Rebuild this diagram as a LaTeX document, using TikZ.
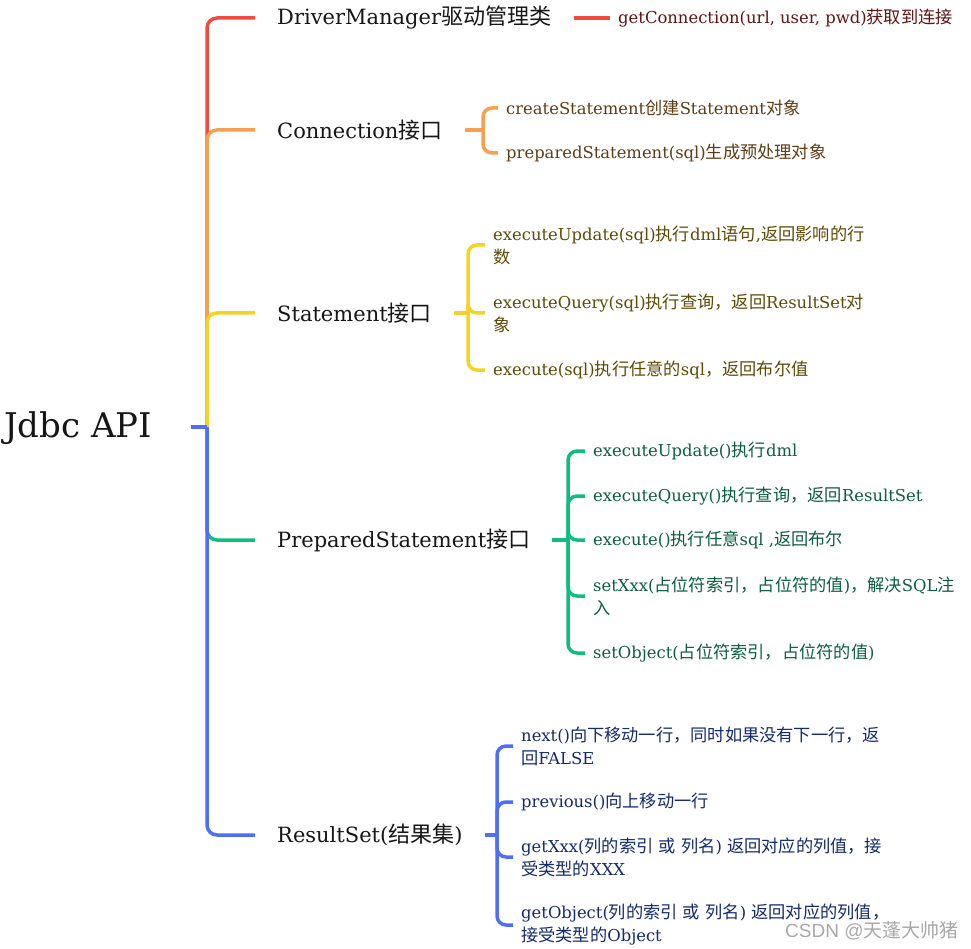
\documentclass[tikz,border=0pt]{standalone}
\usepackage{fontspec}
\setmainfont{DejaVu Serif}
\newfontfamily\cjk[Scale=1.05]{Noto Sans CJK SC}
\newfontfamily\wmfont{Liberation Sans}
\newfontfamily\wmcjk{Noto Sans CJK SC}
\newcommand\zh[1]{{\cjk #1}}
\definecolor{cred}{HTML}{F24A3F}
\definecolor{corange}{HTML}{F7A050}
\definecolor{cyellow}{HTML}{F5D226}
\definecolor{cgreen}{HTML}{10BD7F}
\definecolor{cblue}{HTML}{4F6EF7}
\definecolor{tred}{HTML}{5E1313}
\definecolor{torange}{HTML}{5E3C14}
\definecolor{tyellow}{HTML}{5E4A05}
\definecolor{tgreen}{HTML}{0B5E40}
\definecolor{tblue}{HTML}{132A6E}
\definecolor{tmain}{HTML}{161616}
\definecolor{wmgray}{HTML}{A8A8A8}
\begin{document}
\begin{tikzpicture}[x=1pt,y=-1pt,
  rootnode/.style={anchor=west, inner sep=0pt, font=\fontsize{34}{40}\selectfont, text=tmain},
  lone/.style={anchor=west, inner xsep=22pt, inner ysep=2pt, font=\fontsize{21}{26}\selectfont, text=tmain},
  ltwo/.style={anchor=west, inner xsep=8pt, inner ysep=2pt, align=left, font=\fontsize{16.4}{23}\selectfont},
  trunk/.style={line width=3.5pt, rounded corners=10pt},
  brace/.style={line width=3.5pt, rounded corners=9pt},
  stub/.style={line width=3.5pt}
]
\useasboundingbox (0,0) rectangle (971,949);

% root
\node[rootnode] (root) at (4,428) {Jdbc API};
\coordinate (rootout) at (191,427);
\coordinate (hub) at (207,427);

% level 1
\node[lone] (dm) at (255,18) {DriverManager\zh{驱动管理类}};
\node[lone] (conn) at (255,130) {Connection\zh{接口}};
\node[lone] (stmt) at (255,313) {Statement\zh{接口}};
\node[lone] (ps) at (255,540) {PreparedStatement\zh{接口}};
\node[lone] (rs) at (255,835) {ResultSet(\zh{结果集})};

% trunk connectors
\draw[trunk, cred] (hub) |- (dm.west);
\draw[trunk, corange] (hub) |- (conn.west);
\draw[trunk, cyellow] (hub) |- (stmt.west);
\draw[trunk, cgreen] (hub) |- (ps.west);
\draw[trunk, cblue] (hub) |- (rs.west);
\draw[stub, cblue] (rootout) -- (hub);

% DriverManager child
\node[ltwo, text=tred] (gc) at (610,18) {getConnection(url, user, pwd)\zh{获取到连接}};
\draw[stub, cred] (dm.east) -- (gc.west);

% Connection children
\coordinate (cj) at (483,130);
\node[ltwo, text=torange] (c1) at (498,108) {createStatement\zh{创建}Statement\zh{对象}};
\node[ltwo, text=torange] (c2) at (498,153) {preparedStatement(sql)\zh{生成预处理对象}};
\draw[stub, corange] (conn.east) -- (cj);
\draw[brace, corange] (cj) |- (c1.west);
\draw[brace, corange] (cj) |- (c2.west);

% Statement children
\coordinate (sj) at (468,313);
\node[ltwo, text=tyellow] (s1) at (485,245) {executeUpdate(sql)\zh{执行}dml\zh{语句},\zh{返回影响的行}\\\zh{数}};
\node[ltwo, text=tyellow] (s2) at (485,313) {executeQuery(sql)\zh{执行查询，返回}ResultSet\zh{对}\\\zh{象}};
\node[ltwo, text=tyellow] (s3) at (485,370) {execute(sql)\zh{执行任意的}sql\zh{，返回布尔值}};
\draw[stub, cyellow] (stmt.east) -- (sj);
\draw[brace, cyellow] (sj) |- (s1.west);
\draw[brace, cyellow] (sj) |- (s2.west);
\draw[brace, cyellow] (sj) |- (s3.west);

% PreparedStatement children
\coordinate (pj) at (568,540);
\node[ltwo, text=tgreen] (p1) at (585,451) {executeUpdate()\zh{执行}dml};
\node[ltwo, text=tgreen] (p2) at (585,496) {executeQuery()\zh{执行查询，返回}ResultSet};
\node[ltwo, text=tgreen] (p3) at (585,540) {execute()\zh{执行任意}sql ,\zh{返回布尔}};
\node[ltwo, text=tgreen] (p4) at (585,596) {setXxx(\zh{占位符索引，占位符的值})\zh{，解决}SQL\zh{注}\\\zh{入}};
\node[ltwo, text=tgreen] (p5) at (585,653) {setObject(\zh{占位符索引，占位符的值})};
\draw[stub, cgreen] (ps.east) -- (pj);
\foreach \c in {p1,p2,p3,p4,p5} \draw[brace, cgreen] (pj) |- (\c.west);

% ResultSet children
\coordinate (rj) at (497,835);
\node[ltwo, text=tblue] (r1) at (513,746) {next()\zh{向下移动一行，同时如果没有下一行，返}\\\zh{回}FALSE};
\node[ltwo, text=tblue] (r2) at (513,802) {previous()\zh{向上移动一行}};
\node[ltwo, text=tblue] (r3) at (513,857) {getXxx(\zh{列的索引} \zh{或} \zh{列名}) \zh{返回对应的列值，接}\\\zh{受类型的}XXX};
\node[ltwo, text=tblue] (r4) at (513,925) {getObject(\zh{列的索引} \zh{或} \zh{列名}) \zh{返回对应的列值，}\\\zh{接受类型的}Object};
\draw[stub, cblue] (rs.east) -- (rj);
\foreach \c in {r1,r2,r3,r4} \draw[brace, cblue] (rj) |- (\c.west);

% watermark
\node[anchor=west, inner sep=0pt, text=wmgray, font=\fontsize{19}{22}\selectfont] (wm) at (785,931) {\wmfont CSDN @{\wmcjk 天蓬大帅猪}};
\end{tikzpicture}
\end{document}
